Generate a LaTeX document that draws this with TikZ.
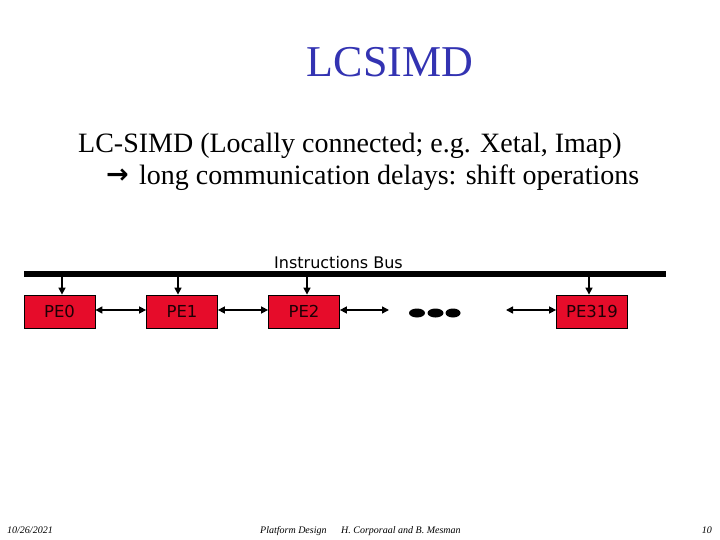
\documentclass[tikz,border=0pt]{standalone}
\usepackage{fontspec}
\setmainfont{Liberation Serif}
\newfontfamily\tahoma{DejaVu Sans}
\usetikzlibrary{arrows.meta}
\definecolor{titleblue}{RGB}{51,51,178}
\definecolor{pered}{RGB}{230,12,42}
\definecolor{petext}{RGB}{30,0,5}
\tikzset{
  pebox/.style={draw=black, line width=0.8pt, fill=pered, minimum width=71pt, minimum height=33pt, inner sep=0pt, text=petext, font=\tahoma\fontsize{16.5}{16.5}\selectfont},
  arr/.style={line width=1.5pt, -{Triangle[length=7pt,width=7pt]}},
  arrboth/.style={line width=1.5pt, {Triangle[length=7pt,width=7pt]}-{Triangle[length=7pt,width=7pt]}},
  foot/.style={font=\itshape\fontsize{10}{10}\selectfont, anchor=base}
}
\begin{document}
\begin{tikzpicture}[x=1pt,y=-1pt]
\useasboundingbox (0,0) rectangle (720,540);
% title
\node[anchor=base, text=titleblue, font=\fontsize{44}{44}\selectfont, inner sep=0pt] (title) at (390,77) {LCSIMD};
% body
\node[anchor=base west, font=\fontsize{28}{28}\selectfont, inner sep=0pt] (l1) at (78,153) {LC-SIMD (Locally connected; e.g. Xetal, Imap)};
\node[anchor=east, font=\tahoma\bfseries\fontsize{27}{27}\selectfont, inner sep=0pt] (ar) at (129,176) {→};
\node[anchor=base west, font=\fontsize{28}{28}\selectfont, inner sep=0pt] (l2) at (139,185) {long communication delays: shift operations};
% bus
\node[anchor=base, font=\tahoma\fontsize{16}{16}\selectfont, inner sep=0pt] (buslabel) at (338.5,268) {Instructions Bus};
\draw[line width=6pt] (24,274) coordinate (busL) -- (666,274) coordinate (busR);
% PEs
\node[pebox] (pe0) at (59.5,311.5) {PE0};
\node[pebox] (pe1) at (182,311.5) {PE1};
\node[pebox] (pe2) at (304,311.5) {PE2};
\node[pebox] (pe319) at (592,311.5) {PE319};
% bus taps
\coordinate (t0) at (62,277);
\coordinate (t1) at (178,277);
\coordinate (t2) at (307,277);
\coordinate (t3) at (589,277);
\draw[arr] (t0) -- (t0 |- pe0.north);
\draw[arr] (t1) -- (t1 |- pe1.north);
\draw[arr] (t2) -- (t2 |- pe2.north);
\draw[arr] (t3) -- (t3 |- pe319.north);
% links
\coordinate (r2) at (389,310);
\coordinate (l3) at (506,310);
\draw[arrboth] (pe0.east |- 0,310) -- (pe1.west |- 0,310);
\draw[arrboth] (pe1.east |- 0,310) -- (pe2.west |- 0,310);
\draw[arrboth] (pe2.east |- r2) -- (r2);
\draw[arrboth] (l3) -- (pe319.west |- l3);
% dots
\fill (417,313) ellipse [x radius=8, y radius=4.5];
\fill (435.5,313) ellipse [x radius=8, y radius=4.5];
\fill (453,313) ellipse [x radius=7.5, y radius=4.5];
% footer
\node[foot, anchor=base west, inner sep=0pt] (date) at (7,533) {10/26/2021};
\node[foot, anchor=base west, inner sep=0pt] (pd) at (260,533) {Platform Design};
\node[foot, anchor=base west, inner sep=0pt] (auth) at (341,533) {H. Corporaal and B. Mesman};
\node[foot, anchor=base east, inner sep=0pt] (num) at (712,533) {10};
\end{tikzpicture}
\end{document}
